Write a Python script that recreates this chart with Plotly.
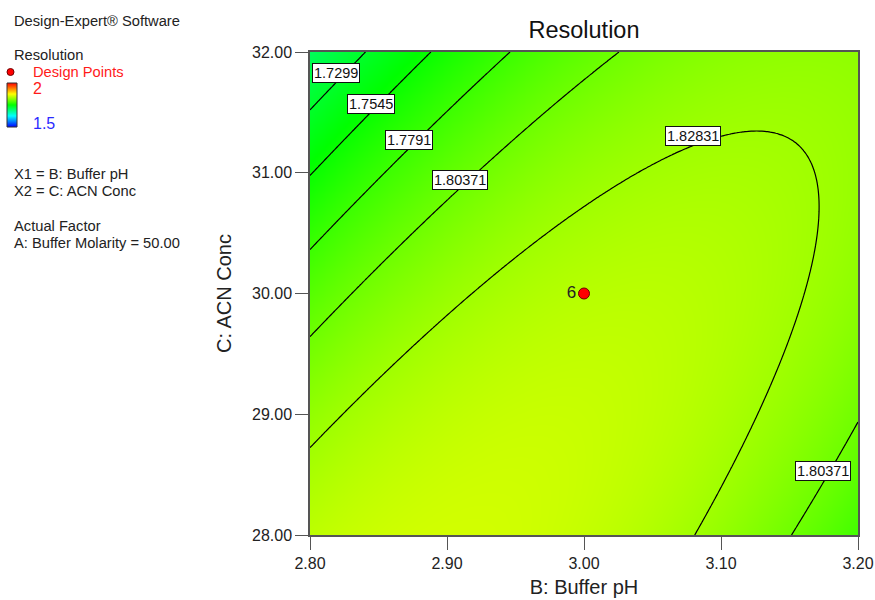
import numpy as np
import plotly.graph_objects as go
from plotly.colors import sample_colorscale

# ---------------- data ----------------
ph_range = [2.80, 3.20]
acn_range = [28.00, 32.00]
x_ticks = [2.80, 2.90, 3.00, 3.10, 3.20]
y_ticks = [28.00, 29.00, 30.00, 31.00, 32.00]

contour_levels = [1.7299, 1.7545, 1.7791, 1.80371, 1.82831]

# points (Buffer pH, ACN Conc)
line_1_82831_ph = [2.800, 2.9387, 2.9825, 3.0825, 3.1285, 3.1715, 3.1613, 3.1380, 3.0810]
line_1_82831_acn = [28.720, 30.195, 30.584, 31.230, 31.346, 30.716, 29.946, 29.284, 28.000]
line_1_80371_ph = [2.800, 2.8635, 3.0117, 3.0255, 3.1993, 3.1788, 3.1518]
line_1_80371_acn = [29.648, 30.360, 31.867, 32.000, 28.927, 28.530, 28.000]
line_1_7791_ph = [2.800, 2.946]
line_1_7791_acn = [30.369, 32.000]
line_1_7545_ph = [2.800, 2.8876]
line_1_7545_acn = [30.981, 32.000]
line_1_7299_ph = [2.800, 2.8401]
line_1_7299_acn = [31.511, 32.000]

# design points
design_ph = [3.00]
design_acn = [30.00]
design_label = ["6"]

# label placements for contour values (pH, ACN)
label_level = [1.7299, 1.7545, 1.7791, 1.80371, 1.82831, 1.80371]
label_ph = [2.8193, 2.8445, 2.8723, 2.9095, 3.0792, 3.1745]
label_acn = [31.826, 31.569, 31.275, 30.944, 31.304, 28.530]

# ---------------- quadratic response surface fitted to traced contours ----------------
traced = [
    (contour_levels[4], line_1_82831_ph, line_1_82831_acn),
    (contour_levels[3], line_1_80371_ph, line_1_80371_acn),
    (contour_levels[2], line_1_7791_ph, line_1_7791_acn),
    (contour_levels[1], line_1_7545_ph, line_1_7545_acn),
    (contour_levels[0], line_1_7299_ph, line_1_7299_acn),
]

def coded(ph, acn):
    return (np.asarray(ph) - 3.0) / 0.2, (np.asarray(acn) - 30.0) / 2.0

rows, rhs = [], []
for lev, phs, acns in traced:
    cx, cy = coded(phs, acns)
    for a, b in zip(cx, cy):
        rows.append([1, a, b, a * b, a * a, b * b])
        rhs.append(lev)
coef, *_ = np.linalg.lstsq(np.array(rows, float), np.array(rhs, float), rcond=None)

gx = np.linspace(ph_range[0], ph_range[1], 201)
gy = np.linspace(acn_range[0], acn_range[1], 201)
GX, GY = np.meshgrid(gx, gy)
CX, CY = coded(GX, GY)
Z = (coef[0] + coef[1] * CX + coef[2] * CY + coef[3] * CX * CY
     + coef[4] * CX ** 2 + coef[5] * CY ** 2)

# ---------------- figure ----------------
FONT = "Arial, 'Liberation Sans', sans-serif"
cscale = [[0.0, "#0000ff"], [0.25, "#00ffff"], [0.5, "#00ff00"],
          [0.75, "#ffff00"], [1.0, "#ff0000"]]

W, H = 875, 600
L, R, T, B = 310, 17, 52, 65
PW, PH = W - L - R, H - T - B

def px(xpix):
    return (xpix - L) / PW

def py(ypix):
    return (H - B - ypix) / PH

fig = go.Figure()
fig.add_trace(go.Heatmap(x=gx, y=gy, z=Z, colorscale=cscale, zmin=1.5, zmax=2.0,
                         showscale=False, zsmooth="best", hoverinfo="skip"))
step = (contour_levels[-1] - contour_levels[0]) / (len(contour_levels) - 1)
fig.add_trace(go.Contour(x=gx, y=gy, z=Z, showscale=False,
                         contours=dict(start=contour_levels[0],
                                       end=contour_levels[-1] + step * 0.1,
                                       size=step, coloring="none"),
                         line=dict(color="black", width=1.2), hoverinfo="skip"))
fig.add_trace(go.Scatter(x=design_ph, y=design_acn, mode="markers+text",
                         text=design_label, textposition="middle left",
                         textfont=dict(family=FONT, size=17, color="#222"),
                         marker=dict(color="#ff0000", size=11,
                                     line=dict(color="#700000", width=1)),
                         hoverinfo="skip", showlegend=False))

annotations = []
for lev, x, y in zip(label_level, label_ph, label_acn):
    annotations.append(dict(x=x, y=y, xref="x", yref="y", text=f"{lev:g}",
                            showarrow=False, bgcolor="white", bordercolor="#111",
                            borderwidth=1, borderpad=1,
                            font=dict(family=FONT, size=14.5, color="#111")))

side_texts = [
    ("Design-Expert® Software", 12, 21, "#222", 14.7),
    ("Resolution", 12, 55, "#222", 14.7),
    ("Design Points", 31, 72, "#ff1a1a", 14.7),
    ("2", 31, 89, "#ff1a1a", 16),
    ("1.5", 31, 124, "#2a2aff", 16),
    ("X1 = B: Buffer pH", 12, 174, "#222", 14.7),
    ("X2 = C: ACN Conc", 12, 191, "#222", 14.7),
    ("Actual Factor", 12, 226, "#222", 14.7),
    ("A: Buffer Molarity = 50.00", 12, 243, "#222", 14.7),
]
for txt, xx, yy, col, fs in side_texts:
    annotations.append(dict(x=px(xx), y=py(yy), xref="paper", yref="paper",
                            xanchor="left", yanchor="middle", text=txt,
                            showarrow=False,
                            font=dict(family=FONT, size=fs, color=col)))

shapes = []
# small legend colour bar
top, bot = 83, 127
n = bot - top
cols = sample_colorscale(cscale, [1 - (i + 0.5) / n for i in range(n)])
for i, c in enumerate(cols):
    shapes.append(dict(type="rect", xref="paper", yref="paper",
                       x0=px(7), x1=px(17), y0=py(top + i + 1.05), y1=py(top + i),
                       line=dict(width=0), fillcolor=c, layer="above"))
shapes.append(dict(type="rect", xref="paper", yref="paper",
                   x0=px(7), x1=px(17), y0=py(bot), y1=py(top),
                   line=dict(color="#333", width=1), fillcolor="rgba(0,0,0,0)"))
# legend design point dot
shapes.append(dict(type="circle", xref="paper", yref="paper",
                   x0=px(7), x1=px(14), y0=py(75.5), y1=py(68.5),
                   fillcolor="#ff0000", line=dict(color="#700000", width=1)))

axis_common = dict(showgrid=False, zeroline=False, showline=True, mirror=True,
                   linecolor="#555", linewidth=1.5, ticks="outside", ticklen=13,
                   tickwidth=1.2, tickcolor="#555", automargin=False,
                   tickfont=dict(family=FONT, size=16, color="#222"))

fig.update_layout(
    width=W, height=H,
    margin=dict(l=L, r=R, t=T, b=B),
    paper_bgcolor="white", plot_bgcolor="white",
    title=dict(text="Resolution", x=0.5, xref="paper", y=1 - 30 / H,
               yref="container", xanchor="center", yanchor="middle",
               font=dict(family=FONT, size=23.5, color="#111")),
    xaxis=dict(range=ph_range, tickvals=x_ticks,
               ticktext=[f"{v:.2f}" for v in x_ticks],
               title=dict(text="B: Buffer pH", standoff=9,
                          font=dict(family=FONT, size=20, color="#222")),
               **axis_common),
    yaxis=dict(range=acn_range, tickvals=y_ticks,
               ticktext=[f"{v:.2f}" for v in y_ticks],
               title=dict(text="C: ACN Conc", standoff=15,
                          font=dict(family=FONT, size=20, color="#222")),
               **axis_common),
    annotations=annotations,
    shapes=shapes,
    showlegend=False,
)

fig.write_html("out.html")
